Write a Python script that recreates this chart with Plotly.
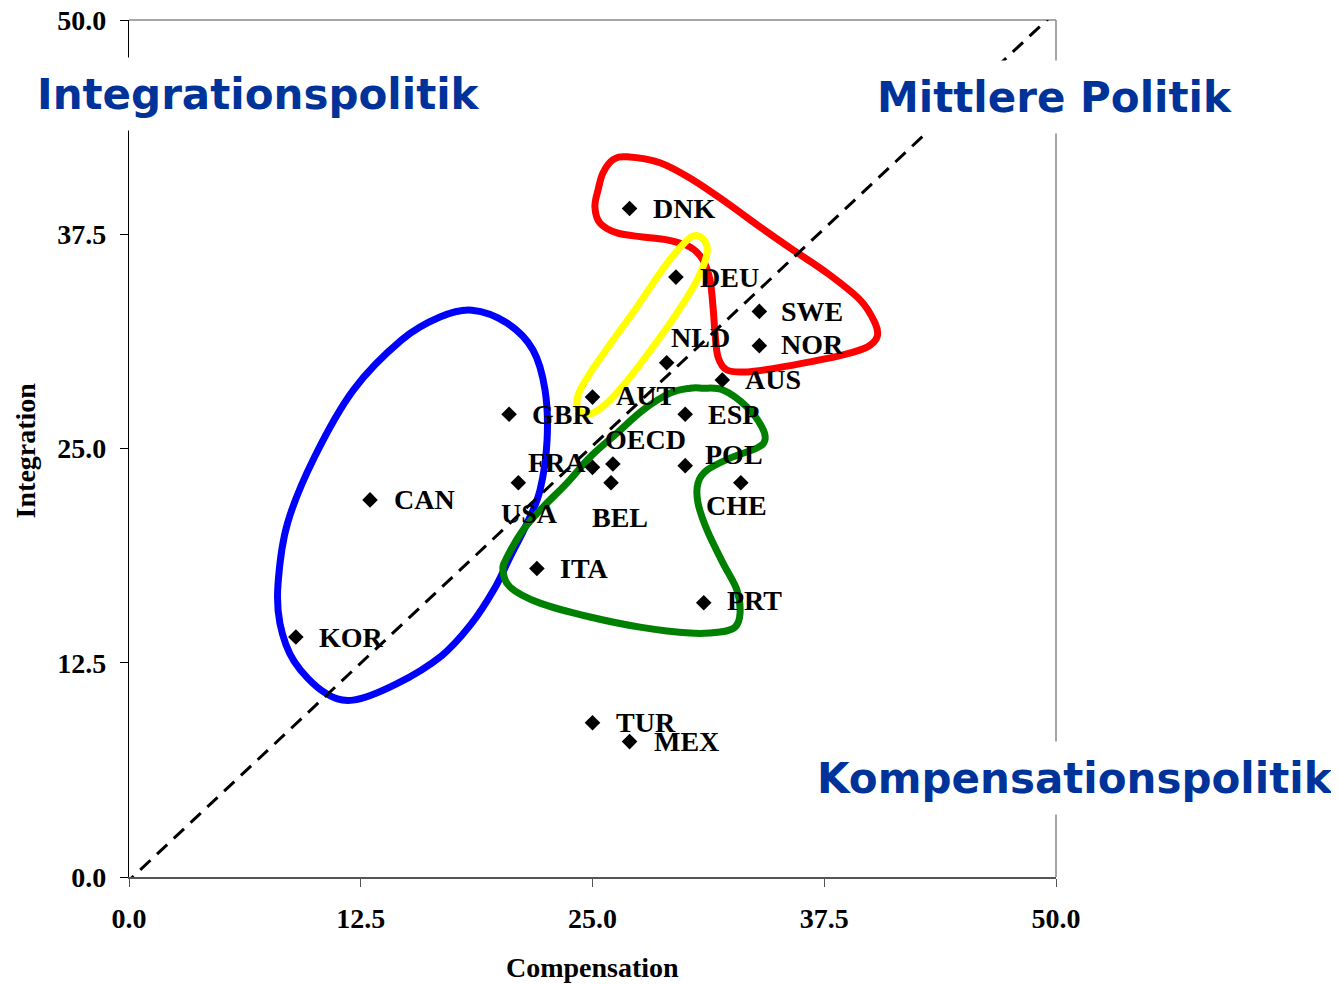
import plotly.graph_objects as go

# ---- data ----
countries = ["DNK", "DEU", "SWE", "NOR", "NLD", "AUS", "AUT", "GBR", "ESP", "OECD", "FRA",
             "POL", "CHE", "USA", "BEL", "CAN", "ITA", "PRT", "KOR", "TUR", "MEX"]
compensation = [27.0, 29.5, 34.0, 34.0, 29.0, 32.0, 25.0, 20.5, 30.0, 26.1, 25.0,
                30.0, 33.0, 21.0, 26.0, 13.0, 22.0, 31.0, 9.0, 25.0, 27.0]
integration = [39.0, 35.0, 33.0, 31.0, 30.0, 29.0, 28.0, 27.0, 27.0, 24.1, 23.9,
               24.0, 23.0, 23.0, 23.0, 22.0, 18.0, 16.0, 14.0, 9.0, 7.9]
tick_vals = [0, 12.5, 25, 37.5, 50]
tick_text = ["0.0", "12.5", "25.0", "37.5", "50.0"]
quadrant_labels = ["Integrationspolitik", "Mittlere Politik", "Kompensationspolitik"]

# label placement (style): xanchor, xshift px, yshift px
label_place = {
    "DNK": ("left", 21, 0), "DEU": ("left", 22, 0), "SWE": ("left", 20, 0),
    "NOR": ("left", 20, 1), "NLD": ("left", 2, 25), "AUS": ("left", 21, 0),
    "AUT": ("left", 21, 2), "GBR": ("left", 21, 0), "ESP": ("left", 21, 0),
    "OECD": ("left", -10, 24), "FRA": ("right", -5, 5), "POL": ("left", 18, 11),
    "CHE": ("center", -4, -23), "USA": ("center", 11, -31), "BEL": ("center", 9, -35),
    "CAN": ("left", 22, 0), "ITA": ("left", 21, 0), "PRT": ("left", 21, 2),
    "KOR": ("left", 21, 0), "TUR": ("left", 21, 0), "MEX": ("left", 22, 0),
}

# hand-drawn group outlines (data units)
blue_outline = [(18.50, 33.07), (20.39, 32.32), (21.79, 30.75), (22.44, 28.41), (22.55, 25.49),
                (22.17, 22.57), (21.47, 20.64), (20.55, 18.66), (19.70, 16.80), (18.45, 14.75),
                (16.85, 12.90), (14.40, 11.25), (12.08, 10.32), (10.50, 10.80), (8.90, 12.60),
                (8.14, 14.80), (8.04, 17.14), (8.55, 20.64), (10.00, 24.49), (12.10, 28.41),
                (14.70, 31.33), (16.77, 32.67)]
red_outline = [(26.86, 42.02), (28.64, 41.67), (30.42, 40.67), (32.25, 39.33), (34.03, 37.93),
               (35.81, 36.59), (37.65, 35.24), (39.43, 33.67), (40.24, 32.32), (40.35, 31.51),
               (39.81, 30.92), (38.51, 30.46), (36.73, 30.05), (34.95, 29.70), (33.33, 29.47),
               (32.25, 29.58), (31.77, 30.34), (31.61, 31.74), (31.50, 33.26), (31.34, 34.83),
               (30.96, 36.00), (30.26, 36.76), (29.02, 37.17), (27.72, 37.34), (26.32, 37.58),
               (25.40, 38.16), (25.13, 39.10), (25.30, 40.09), (25.57, 41.09), (26.11, 41.85)]
yellow_outline = [(30.42, 37.40), (31.01, 37.17), (31.18, 36.41), (30.64, 34.83), (29.56, 32.91),
                  (28.26, 30.92), (26.86, 28.94), (25.78, 27.65), (24.87, 27.01), (24.27, 27.24),
                  (24.22, 28.12), (24.87, 29.40), (26.11, 31.33), (27.40, 33.26), (28.64, 35.24),
                  (29.61, 36.59)]
green_outline = [(30.96, 28.52), (32.04, 28.41), (33.33, 27.42), (34.14, 26.25), (34.30, 25.49),
                 (33.87, 25.03), (32.42, 24.44), (31.18, 23.74), (30.69, 22.98), (30.69, 21.82),
                 (31.18, 20.24), (32.04, 18.31), (32.79, 16.74), (32.96, 15.40), (32.69, 14.58),
                 (31.88, 14.29), (30.26, 14.23), (27.56, 14.58), (24.87, 15.17), (22.17, 15.98),
                 (20.55, 16.92), (20.17, 17.91), (20.39, 18.66), (21.25, 20.24), (22.33, 21.58),
                 (23.62, 22.98), (24.87, 24.50), (26.32, 25.90), (27.72, 27.24), (29.18, 28.23),
                 (30.26, 28.52)]
diagonal_x = [-0.3, 49.7]
diagonal_y = [-0.5, 50.2]


def closed_smooth_path(pts):
    n = len(pts)
    d = "M %.3f,%.3f" % pts[0]
    for i in range(n):
        p0 = pts[(i - 1) % n]
        p1 = pts[i]
        p2 = pts[(i + 1) % n]
        p3 = pts[(i + 2) % n]
        c1 = (p1[0] + (p2[0] - p0[0]) / 6, p1[1] + (p2[1] - p0[1]) / 6)
        c2 = (p2[0] - (p3[0] - p1[0]) / 6, p2[1] - (p3[1] - p1[1]) / 6)
        d += " C %.3f,%.3f %.3f,%.3f %.3f,%.3f" % (c1[0], c1[1], c2[0], c2[1], p2[0], p2[1])
    return d + " Z"


SERIF = "Liberation Serif, Times New Roman, serif"
BLUE = "#003399"

fig = go.Figure()

fig.add_trace(go.Scatter(x=diagonal_x, y=diagonal_y, mode="lines",
                         line=dict(color="black", width=3, dash="14px,9px"),
                         hoverinfo="skip", showlegend=False))
fig.add_trace(go.Scatter(x=compensation, y=integration, mode="markers",
                         marker=dict(symbol="diamond", size=12, color="black"),
                         text=countries, showlegend=False, cliponaxis=False))

shapes = []
for pts, col in [(blue_outline, "#0000FF"), (red_outline, "#FF0000"),
                 (yellow_outline, "#FFFF00"), (green_outline, "#008000")]:
    shapes.append(dict(type="path", xref="x", yref="y", path=closed_smooth_path(pts),
                       line=dict(color=col, width=7), layer="below"))
# frame top/right
shapes.append(dict(type="line", xref="paper", yref="paper", x0=0, x1=1, y0=1, y1=1,
                   line=dict(color="#888888", width=1.5), layer="below"))
shapes.append(dict(type="line", xref="paper", yref="paper", x0=1, x1=1, y0=0, y1=1,
                   line=dict(color="#888888", width=1.5), layer="below"))

annotations = []
for name, xv, yv in zip(countries, compensation, integration):
    xa, xs, ys = label_place[name]
    annotations.append(dict(x=xv, y=yv, xref="x", yref="y", text=name, showarrow=False,
                            xanchor=xa, yanchor="middle", xshift=xs, yshift=ys,
                            font=dict(family=SERIF, size=28, color="black", weight="bold")))

quad_pos = [(0.1392, 0.9137), (0.9989, 0.9096), (1.0205, 0.1161)]
for txt, (qx, qy) in zip(quadrant_labels, quad_pos):
    annotations.append(dict(x=qx, y=qy, xref="paper", yref="paper", text=txt, showarrow=False,
                            xanchor="center", yanchor="middle", bgcolor="white", height=72,
                            borderpad=0,
                            font=dict(family="DejaVu Sans", size=42, color=BLUE, weight="bold")))

annotations.append(dict(x=0.4995, y=-0.106, xref="paper", yref="paper", text="Compensation",
                        showarrow=False, xanchor="center", yanchor="middle",
                        font=dict(family=SERIF, size=28, color="black", weight="bold")))
annotations.append(dict(x=-0.112, y=0.498, xref="paper", yref="paper", text="Integration",
                        showarrow=False, xanchor="center", yanchor="middle", textangle=-90,
                        font=dict(family=SERIF, size=28, color="black", weight="bold")))

fig.update_layout(
    width=1339, height=984,
    margin=dict(l=121, r=291, t=12, b=115, autoexpand=False),
    paper_bgcolor="white", plot_bgcolor="white",
    shapes=shapes, annotations=annotations,
    showlegend=False,
    xaxis=dict(range=[0, 50], tickvals=tick_vals, ticktext=tick_text, automargin=False,
               showgrid=False, zeroline=False, showline=True, linecolor="#555555", linewidth=1.5,
               ticks="outside", ticklen=8, tickcolor="#555555", ticklabelstandoff=8,
               ticklabeloverflow="allow",
               tickfont=dict(family=SERIF, size=28, color="black", weight="bold")),
    yaxis=dict(range=[0, 50], tickvals=tick_vals, ticktext=tick_text, automargin=False,
               showgrid=False, zeroline=False, showline=True, linecolor="black", linewidth=1.3,
               ticks="outside", ticklen=8, tickcolor="black", ticklabelstandoff=8,
               ticklabeloverflow="allow",
               tickfont=dict(family=SERIF, size=28, color="black", weight="bold")),
)

fig.write_html("out.html")
